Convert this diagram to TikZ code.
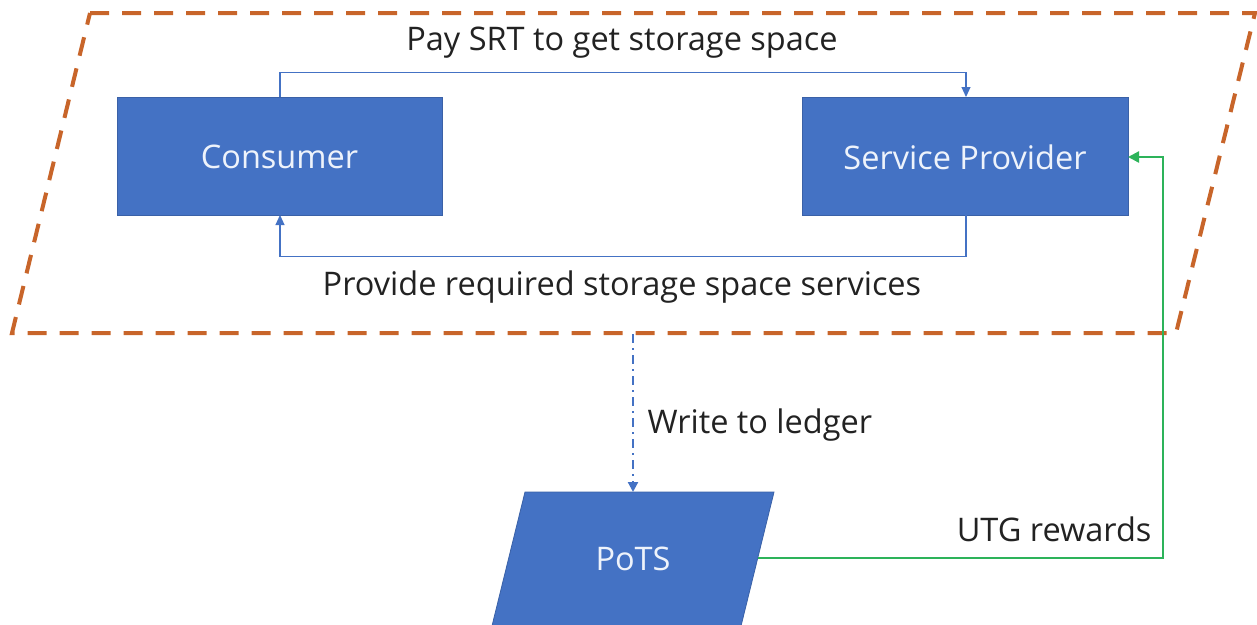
\documentclass[tikz,border=0pt]{standalone}
\usepackage{fontspec}
\setmainfont{Open Sans}
\usetikzlibrary{arrows.meta}
\definecolor{boxblue}{HTML}{4472C4}
\definecolor{dashorange}{HTML}{C8652A}
\definecolor{rewardgreen}{HTML}{2DB35A}
\definecolor{txtwhite}{HTML}{EEF3FB}
\definecolor{txtdark}{HTML}{222222}
\tikzset{
  x=1pt, y=-1pt,
  procbox/.style={draw=boxblue!85!black, line width=0.8pt, fill=boxblue},
  boxtext/.style={text=txtwhite, font=\fontsize{32.5}{38}\selectfont},
  lbl/.style={text=txtdark, font=\fontsize{32.5}{38}\selectfont},
  flow/.style={draw=boxblue, line width=1.1pt, -{Triangle[length=10pt,width=9pt]}},
  ledger/.style={draw=boxblue, line width=2.2pt, dash pattern=on 9pt off 5pt on 2pt off 5pt, -{Triangle[length=10pt,width=10pt]}},
  reward/.style={draw=rewardgreen, line width=2.4pt, -{Triangle[length=11pt,width=11pt]}},
  region/.style={draw=dashorange, line width=4pt, dash pattern=on 19pt off 13pt}
}
\begin{document}
\begin{tikzpicture}
\useasboundingbox (0,0) rectangle (1257,624);
\clip (0,0) rectangle (1257,624);
% dashed region
\draw[region] (90,13) -- (1255,13) -- (1176,333) -- (12,333) -- cycle;
% boxes
\draw[procbox] (117,97) rectangle (442,215);
\node[boxtext] (cons) at (279.5,157) {Consumer};
\coordinate (consT) at (280,97);
\coordinate (consB) at (280,215);
\draw[procbox] (802,97) rectangle (1128,215);
\node[boxtext] (sp) at (965,157) {Service Provider};
\coordinate (spT) at (966,97);
\coordinate (spB) at (966,215);
\coordinate (spR) at (1128,157);
% PoTS
\draw[procbox] (525,492) -- (774,492) -- (740,630) -- (491,630) -- cycle;
\node[boxtext] (pots) at (633,559) {PoTS};
\coordinate (potsT) at (633,492);
\coordinate (potsR) at (758,558);
% connectors
\draw[flow] (consT) -- (280,72.5) -- (966,72.5) -- (spT);
\draw[flow] (spB) -- (966,256.5) -- (280,256.5) -- (consB);
\coordinate (regionB) at (633,334);
\draw[ledger] (regionB) -- (potsT);
\draw[reward] (potsR) -- (1163,558) -- (1163,157) -- (spR);
% labels
\node[lbl] (l1) at (622,43) {Pay SRT to get storage space};
\node[lbl] (l2) at (622,287) {Provide required storage space services};
\node[lbl, anchor=west] (l3) at (644,425) {Write to ledger};
\node[lbl, anchor=east] (l4) at (1155,529) {UTG rewards};
\end{tikzpicture}
\end{document}
